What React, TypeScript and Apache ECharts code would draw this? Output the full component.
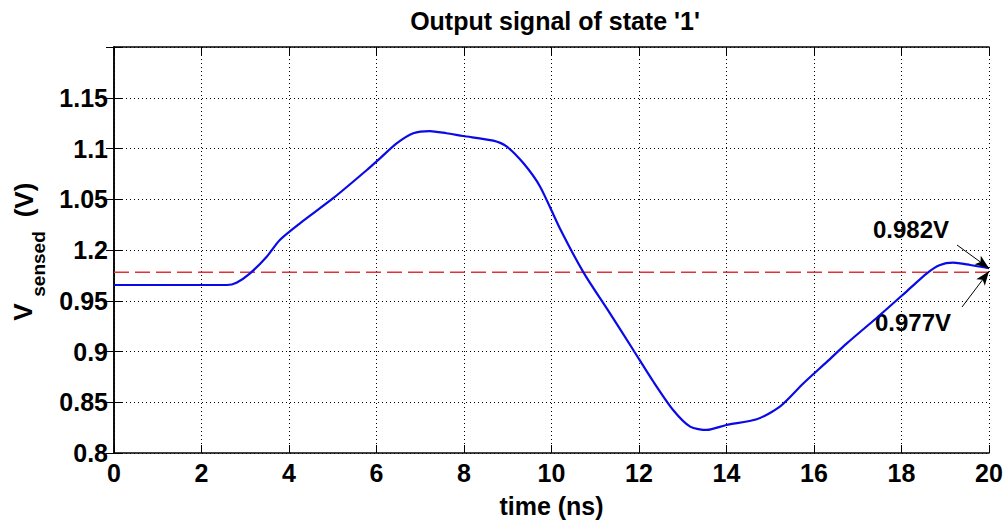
import React, { useEffect, useRef } from "react";
import * as echarts from "echarts";

const titleText = "Output signal of state '1'";
const xName = "time (ns)";
const timeNs = [0, 1, 2, 2.58, 2.8, 3.11, 3.49, 3.79, 4.25, 5.01, 5.78, 6.08, 6.46, 6.84, 7.22, 7.6, 7.98, 8.67, 8.98, 9.36, 9.74, 10.19, 10.73, 11.3, 11.87, 12.33, 12.78, 13.17, 13.55, 14.0, 14.69, 15.22, 15.76, 16.3, 16.75, 17.51, 18.12, 18.58, 18.88, 19.18, 19.57, 20];
const vSensed = [0.9655, 0.9655, 0.9655, 0.9655, 0.9678, 0.977, 0.9934, 1.0099, 1.0263, 1.051, 1.0788, 1.0903, 1.105, 1.115, 1.1172, 1.115, 1.1123, 1.1077, 1.1018, 1.0854, 1.0624, 1.0214, 0.978, 0.94, 0.9015, 0.8702, 0.8424, 0.826, 0.8227, 0.8276, 0.8332, 0.8456, 0.8687, 0.89, 0.908, 0.936, 0.9593, 0.977, 0.9852, 0.9875, 0.9852, 0.982];
const refLevel = 0.978;
const xTicks = ["0", "2", "4", "6", "8", "10", "12", "14", "16", "18", "20"];
const yTickLabels = ["0.8", "0.85", "0.9", "0.95", "1.2", "1.05", "1.1", "1.15", ""];
const annotHigh = "0.982V";
const annotLow = "0.977V";

const FONT = "'Liberation Sans', Arial, sans-serif";

export default function App() {
  const ref = useRef<HTMLDivElement>(null);
  useEffect(() => {
    if (!ref.current) return;
    const chart = echarts.init(ref.current, null, { renderer: "svg" });
    const gridLine = { show: true, lineStyle: { color: "#000", type: [1, 3] as any, width: 1 } };
    const tickInside = { show: true, inside: true, length: 8, lineStyle: { color: "#000", width: 1 } };
    const axisLineBlack = { show: true, lineStyle: { color: "#000", width: 1.5 } };
    const endV = vSensed[vSensed.length - 1];
    chart.setOption({
      animation: false,
      backgroundColor: "#fff",
      title: {
        text: titleText,
        left: 550,
        top: 3,
        textAlign: "center",
        textStyle: { fontFamily: FONT, fontWeight: "bold", fontSize: 25, color: "#000" },
      },
      grid: { left: 114, right: 19, top: 47, bottom: 70 },
      xAxis: [
        {
          type: "value",
          min: 0,
          max: 20,
          interval: 2,
          position: "bottom",
          axisLine: axisLineBlack,
          axisTick: tickInside,
          splitLine: gridLine,
          axisLabel: {
            color: "#000",
            fontFamily: FONT,
            fontWeight: "bold",
            fontSize: 25,
            margin: 7,
            formatter: (v: number) => xTicks[Math.round(v / 2)] ?? "",
          },
          name: xName,
          nameLocation: "middle",
          nameGap: 40,
          nameTextStyle: { color: "#000", fontFamily: FONT, fontWeight: "bold", fontSize: 25 },
        },
        {
          type: "value",
          min: 0,
          max: 20,
          interval: 2,
          position: "top",
          axisLine: axisLineBlack,
          axisTick: tickInside,
          splitLine: { show: false },
          axisLabel: { show: false },
        },
      ],
      yAxis: [
        {
          type: "value",
          min: 0.8,
          max: 1.2,
          interval: 0.05,
          position: "left",
          axisLine: axisLineBlack,
          axisTick: tickInside,
          splitLine: gridLine,
          axisLabel: {
            color: "#000",
            fontFamily: FONT,
            fontWeight: "bold",
            fontSize: 25,
            margin: 6,
            formatter: (v: number) => yTickLabels[Math.round((v - 0.8) / 0.05)] ?? "",
          },
        },
        {
          type: "value",
          min: 0.8,
          max: 1.2,
          interval: 0.05,
          position: "right",
          axisLine: axisLineBlack,
          axisTick: tickInside,
          splitLine: { show: false },
          axisLabel: { show: false },
        },
      ],
      series: [
        {
          type: "line",
          data: [[0, refLevel], [20, refLevel]],
          showSymbol: false,
          lineStyle: { color: "#e0323a", width: 1.5, type: [15, 6] },
          silent: true,
          z: 2,
        },
        {
          type: "line",
          data: timeNs.map((t, i) => [t, vSensed[i]]),
          showSymbol: false,
          smooth: 0.25,
          lineStyle: { color: "#0a0ae6", width: 2.2 },
          z: 3,
          markLine: {
            silent: true,
            symbol: ["none", "arrow"],
            symbolSize: [8, 14],
            label: { show: false },
            lineStyle: { color: "#000", width: 1, type: "solid" },
            data: [
              [{ x: 957, y: 245 }, { coord: [20, endV] }],
              [{ x: 962, y: 307 }, { coord: [20, endV - 0.003] }],
            ],
          },
        },
      ],
      graphic: [
        {
          type: "text",
          x: 911,
          y: 229,
          style: { text: annotHigh, fontFamily: FONT, fontWeight: "bold", fontSize: 24, fill: "#000", align: "center", verticalAlign: "middle" },
        },
        {
          type: "text",
          x: 913,
          y: 322,
          style: { text: annotLow, fontFamily: FONT, fontWeight: "bold", fontSize: 24, fill: "#000", align: "center", verticalAlign: "middle" },
        },
        {
          type: "text",
          x: 23,
          y: 312,
          rotation: Math.PI / 2,
          style: { text: "V", fontFamily: FONT, fontWeight: "bold", fontSize: 26, fill: "#000", align: "center", verticalAlign: "middle" },
        },
        {
          type: "text",
          x: 38,
          y: 264,
          rotation: Math.PI / 2,
          style: { text: "sensed", fontFamily: FONT, fontWeight: "bold", fontSize: 19, fill: "#000", align: "center", verticalAlign: "middle" },
        },
        {
          type: "text",
          x: 24,
          y: 200,
          rotation: Math.PI / 2,
          style: { text: "(V)", fontFamily: FONT, fontWeight: "bold", fontSize: 26, fill: "#000", align: "center", verticalAlign: "middle" },
        },
      ],
    });
    return () => chart.dispose();
  }, []);
  return <div ref={ref} style={{ position: "absolute", left: 0, top: 0, width: 1008, height: 523 }} />;
}
